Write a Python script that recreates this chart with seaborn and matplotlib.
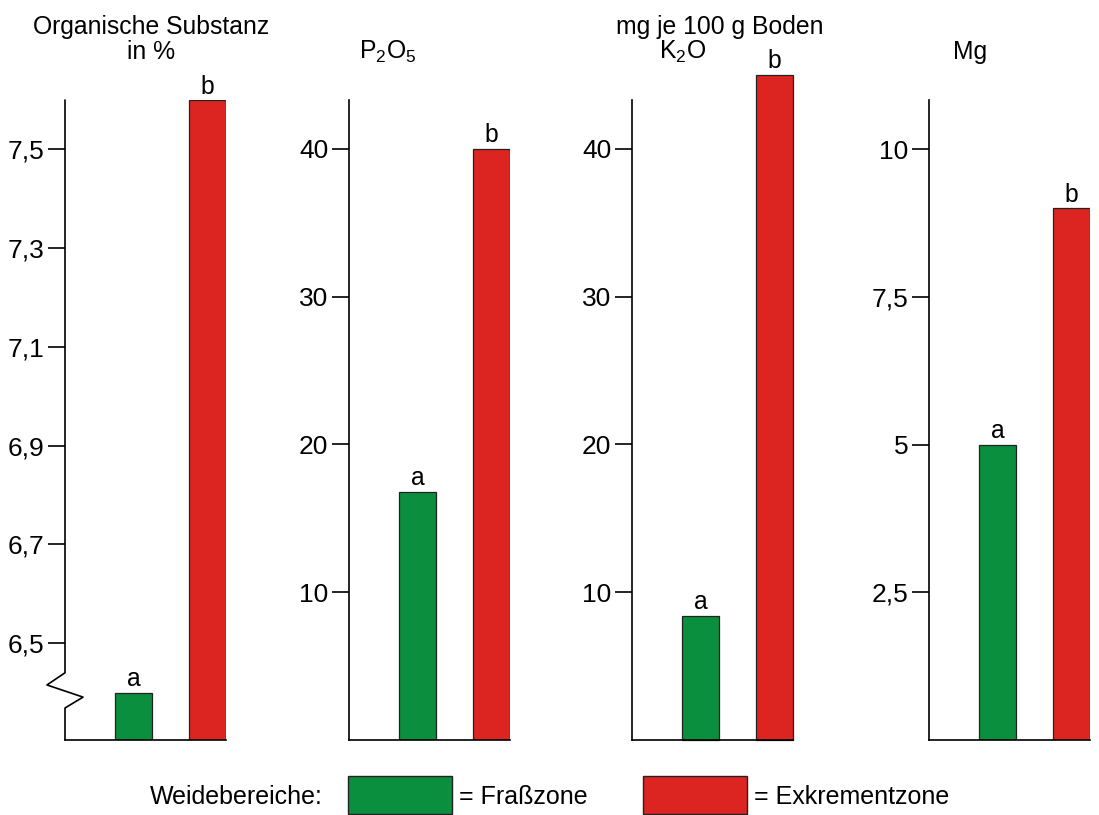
import matplotlib
matplotlib.use('Agg')
import matplotlib.pyplot as plt
import seaborn as sns
import pandas as pd
from matplotlib.patches import Rectangle

# Data
zones = ['Fraßzone', 'Exkrementzone']
letters = ['a', 'b']
titles = ['Organische Substanz\nin %', r'P$_\mathregular{2}$O$_\mathregular{5}$',
          r'K$_\mathregular{2}$O', 'Mg']
organik = [6.4, 7.6]
p2o5 = [16.8, 40]
k2o = [8.4, 45]
mg = [5, 9]
ticks = [[6.5, 6.7, 6.9, 7.1, 7.3, 7.5], [10, 20, 30, 40], [10, 20, 30, 40], [2.5, 5, 7.5, 10]]
tick_labels = [['6,5', '6,7', '6,9', '7,1', '7,3', '7,5'], ['10', '20', '30', '40'],
               ['10', '20', '30', '40'], ['2,5', '5', '7,5', '10']]
ylims = [(6.304, 7.6), (0, 43.3), (0, 43.3), (0, 10.83)]

palette = {'Fraßzone': '#0a8f3e', 'Exkrementzone': '#dc2420'}

sns.set_style('white')
plt.rcParams['font.family'] = ['Liberation Sans', 'DejaVu Sans']
plt.rcParams['mathtext.fontset'] = 'custom'
plt.rcParams['mathtext.rm'] = 'Liberation Sans'
plt.rcParams['text.color'] = 'black'
plt.rcParams['ytick.color'] = 'black'
plt.rcParams['ytick.labelcolor'] = 'black'

W, H = 1099, 815
fig = plt.figure(figsize=(W / 100, H / 100), dpi=100)

def fx(x):
    return x / W

def fy(y):
    return 1 - y / H

FS = 17.8     # titles, letters
TFS = 19      # tick labels
LFS = 18      # legend
lefts = [65, 349, 632, 929]
for i, vals in enumerate([organik, p2o5, k2o, mg]):
    ax = fig.add_axes([fx(lefts[i]), fy(740), 161 / W, 640 / H])
    df = pd.DataFrame({'zone': zones, 'value': vals})
    sns.barplot(data=df, x='zone', y='value', hue='zone', palette=palette, saturation=1,
                legend=False, width=0.5, edgecolor='#222222', linewidth=0.9, ax=ax)
    ax.set_xlim(-0.93, 1.25)
    ax.set_ylim(*ylims[i])
    ax.set_xticks([])
    ax.set_xlabel('')
    ax.set_ylabel('')
    ax.set_yticks(ticks[i])
    ax.set_yticklabels(tick_labels[i], fontsize=TFS)
    ax.tick_params(axis='y', direction='out', length=12, width=1.2, color='black',
                   pad=3, left=True)
    for s in ['top', 'right']:
        ax.spines[s].set_visible(False)
    for s in ['left', 'bottom']:
        ax.spines[s].set_color('black')
        ax.spines[s].set_linewidth(1.2)
    if i == 2:
        for p in ax.patches:
            p.set_clip_on(False)
    for j, v in enumerate(vals):
        ax.annotate(letters[j], (j, v), xytext=(0, 1), textcoords='offset points',
                    ha='center', va='bottom', fontsize=FS, annotation_clip=False)
    if i == 0:
        # axis break
        ax.spines['left'].set_visible(False)
        bx = [0, 0, -0.112, 0.112, 0, 0]
        by = [1, 0.105, 0.086, 0.067, 0.05, 0]
        ax.plot(bx, by, color='black', lw=1.2, transform=ax.transAxes, clip_on=False)

# titles
fig.text(fx(151), fy(27), 'Organische Substanz', ha='center', va='center', fontsize=FS)
fig.text(fx(151), fy(52), 'in %', ha='center', va='center', fontsize=FS)
fig.text(fx(388), fy(52), titles[1], ha='center', va='center', fontsize=FS)
fig.text(fx(720), fy(27), 'mg je 100 g Boden', ha='center', va='center', fontsize=FS)
fig.text(fx(683), fy(52), titles[2], ha='center', va='center', fontsize=FS)
fig.text(fx(970), fy(52), titles[3], ha='center', va='center', fontsize=FS)

# legend
fig.text(fx(323), fy(797), 'Weidebereiche:', ha='right', va='center', fontsize=LFS)
for x0, z in [(348, zones[0]), (643, zones[1])]:
    fig.add_artist(Rectangle((fx(x0), fy(814)), 104 / W, 38 / H, transform=fig.transFigure,
                             facecolor=palette[z], edgecolor='#222222', linewidth=1))
    fig.text(fx(x0 + 111), fy(797), '= ' + z, ha='left', va='center', fontsize=LFS)

fig.savefig('out.png', dpi=100)
